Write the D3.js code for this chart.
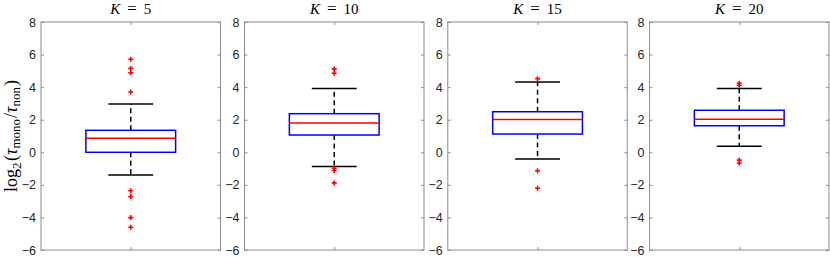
<!DOCTYPE html>
<html>
<head>
<meta charset="utf-8">
<script src="https://cdn.jsdelivr.net/npm/d3@7"></script>
<style>
  body { margin: 0; background: #fff; }
  svg { display: block; }
  .tick text { font-family: "Liberation Sans", Arial, sans-serif; font-size: 12.5px; fill: #262626; }
  .latex { font-family: "Liberation Serif", "Times New Roman", serif; fill: #000; }
</style>
</head>
<body>
<script>
// chart values
const kValues = [5, 10, 15, 20];
const whiskerLow = [-1.40, -0.88, -0.41, 0.37];
const q1 = [0.00, 1.06, 1.12, 1.63];
const medians = [0.86, 1.80, 2.01, 2.03];
const q3 = [1.35, 2.37, 2.49, 2.58];
const whiskerHigh = [2.96, 3.92, 4.31, 3.92];
const outliers = [
  [5.71, 5.15, 4.88, 3.70, -2.36, -2.72, -4.01, -4.60],
  [5.12, 4.85, -0.98, -1.12, -1.88],
  [4.52, -1.13, -2.21],
  [4.24, 4.12, -0.48, -0.66]
];
const yTicks = [-6, -4, -2, 0, 2, 4, 6, 8];

const W = 830, H = 257;
const plotTop = 22, plotBottom = 250;
const panelX = [41, 244.5, 447.8, 649.5];
const panelW = 179.5;
const axisColor = '#8c8c8c';

const svg = d3.select('body').append('svg')
  .attr('width', W)
  .attr('height', H);

const y = d3.scaleLinear().domain([-6, 8]).range([plotBottom, plotTop]);

kValues.forEach((k, i) => {
  const x = d3.scaleLinear().domain([0.5, 1.5]).range([0, panelW]);
  const g = svg.append('g').attr('transform', `translate(${panelX[i]},0)`);

  // frame
  g.append('rect')
    .attr('x', 0).attr('y', plotTop)
    .attr('width', panelW).attr('height', plotBottom - plotTop)
    .attr('fill', 'none').attr('stroke', axisColor).attr('stroke-width', 1);

  // left axis with labels, ticks inside
  const yAxis = g.append('g')
    .call(d3.axisLeft(y).tickValues(yTicks).tickSize(-3).tickPadding(5));
  yAxis.select('.domain').remove();
  yAxis.selectAll('.tick line').attr('stroke', axisColor);

  // right side ticks
  const yRight = g.append('g')
    .attr('transform', `translate(${panelW},0)`)
    .call(d3.axisRight(y).tickValues(yTicks).tickSize(-3).tickFormat(''));
  yRight.select('.domain').remove();
  yRight.selectAll('.tick line').attr('stroke', axisColor);

  // x ticks top and bottom
  [plotTop, plotBottom].forEach((yy, j) => {
    const ax = g.append('g')
      .attr('transform', `translate(0,${yy})`)
      .call((j === 0 ? d3.axisTop(x) : d3.axisBottom(x)).tickValues([1]).tickSize(-3).tickFormat(''));
    ax.select('.domain').remove();
    ax.selectAll('.tick line').attr('stroke', axisColor);
  });

  const cx = x(1);
  const boxHalf = x(1.25) - x(1);
  const capHalf = x(1.125) - x(1);

  // whiskers
  g.append('line')
    .attr('x1', cx).attr('x2', cx)
    .attr('y1', y(q3[i])).attr('y2', y(whiskerHigh[i]))
    .attr('stroke', '#000').attr('stroke-width', 1.5).attr('stroke-dasharray', '5,3.5');
  g.append('line')
    .attr('x1', cx).attr('x2', cx)
    .attr('y1', y(q1[i])).attr('y2', y(whiskerLow[i]))
    .attr('stroke', '#000').attr('stroke-width', 1.5).attr('stroke-dasharray', '5,3.5');

  // caps
  [whiskerLow[i], whiskerHigh[i]].forEach(v => {
    g.append('line')
      .attr('x1', cx - capHalf).attr('x2', cx + capHalf)
      .attr('y1', y(v)).attr('y2', y(v))
      .attr('stroke', '#000').attr('stroke-width', 1.5);
  });

  // box
  g.append('rect')
    .attr('x', cx - boxHalf).attr('y', y(q3[i]))
    .attr('width', boxHalf * 2).attr('height', y(q1[i]) - y(q3[i]))
    .attr('fill', 'none').attr('stroke', '#0000ff').attr('stroke-width', 1.5);

  // median
  g.append('line')
    .attr('x1', cx - boxHalf).attr('x2', cx + boxHalf)
    .attr('y1', y(medians[i])).attr('y2', y(medians[i]))
    .attr('stroke', '#ff0000').attr('stroke-width', 1.5);

  // outliers
  g.selectAll('.out')
    .data(outliers[i])
    .enter().append('path')
    .attr('class', 'out')
    .attr('d', d => `M${cx - 2.5},${y(d)}h5M${cx},${y(d) - 2.5}v5`)
    .attr('stroke', '#ff0000').attr('stroke-width', 1.6).attr('fill', 'none');

  // title
  const t = g.append('text')
    .attr('class', 'latex')
    .attr('x', panelW / 2).attr('y', 14)
    .attr('text-anchor', 'middle')
    .style('font-size', '15px');
  t.append('tspan').style('font-style', 'italic').text('K');
  t.append('tspan').attr('dx', 7).style('font-size', '17px').text('=');
  t.append('tspan').attr('dx', 7).text(k);
});

// y label
const lab = svg.append('text')
  .attr('class', 'latex')
  .attr('transform', `translate(17,${(plotTop + plotBottom) / 2}) rotate(-90)`)
  .attr('text-anchor', 'middle')
  .style('font-size', '18px');
lab.append('tspan').text('log');
lab.append('tspan').attr('dy', 4).style('font-size', '13px').text('2');
lab.append('tspan').attr('dy', -4).attr('dx', 1.5).text('(');
lab.append('tspan').style('font-style', 'italic').text('τ');
lab.append('tspan').attr('dy', 3).style('font-size', '13px').text('mono');
lab.append('tspan').attr('dy', -3).attr('dx', 1).text('/');
lab.append('tspan').style('font-style', 'italic').text('τ');
lab.append('tspan').attr('dy', 3).style('font-size', '13px').text('non');
lab.append('tspan').attr('dy', -3).attr('dx', 1).text(')');
</script>
</body>
</html>
